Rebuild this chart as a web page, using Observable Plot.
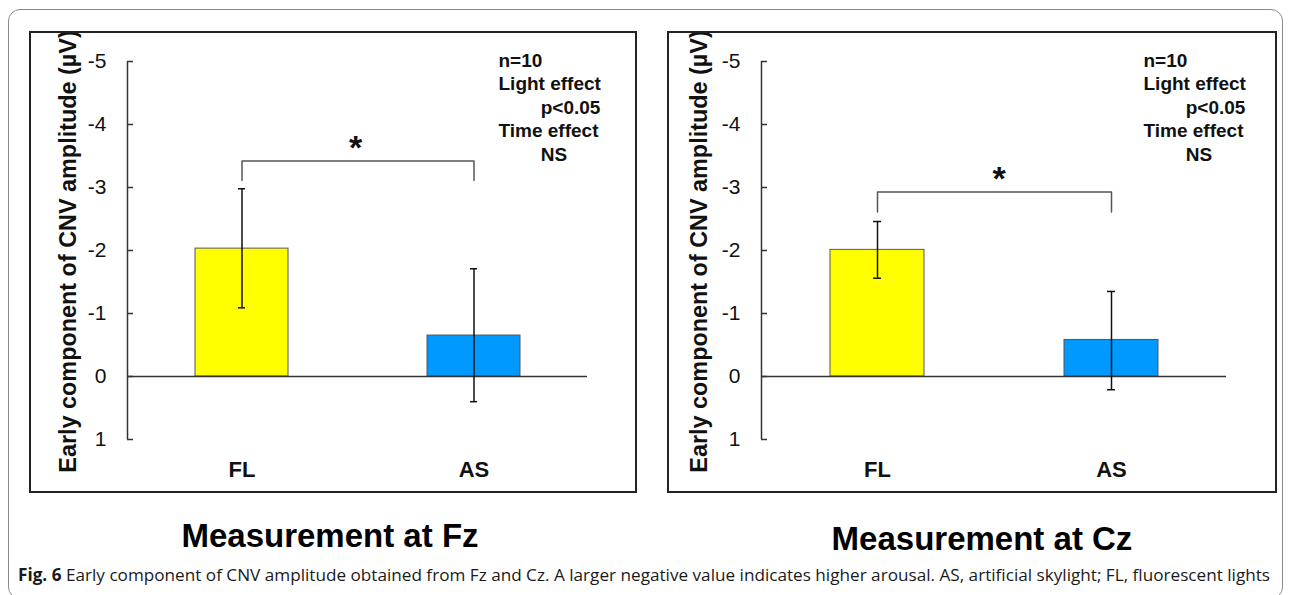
<!DOCTYPE html>
<html>
<head>
<meta charset="utf-8">
<script src="https://cdn.jsdelivr.net/npm/d3@7"></script>
<script src="https://cdn.jsdelivr.net/npm/@observablehq/plot@0.6"></script>
<style>
  body { margin: 0; background: #fff; }
  #root { position: relative; width: 1292px; height: 595px; overflow: hidden; font-family: "Liberation Sans", Arial, sans-serif; background: #fff; }
  #outer { position: absolute; left: 8px; top: 9px; width: 1275px; height: 590px; border: 1.5px solid #8a8a8a; border-radius: 12px; box-sizing: border-box; }
  .panel { position: absolute; top: 31px; }
  .panel svg { display: block; outline: 2px solid #222; outline-offset: -2px; }
  .title { position: absolute; font-weight: bold; font-size: 33px; line-height: 1; white-space: nowrap; transform: translateX(-50%); color: #000; }
  #caption { position: absolute; left: 18px; top: 566px; font-family: "Open Sans", "Noto Sans", sans-serif; font-size: 17px; line-height: 1; white-space: nowrap; color: #1a1a1a; transform-origin: 0 0; }
  #caption b { font-weight: 700; }
</style>
</head>
<body>
<div id="root">
  <div id="outer"></div>
  <div id="panelFz" class="panel" style="left:29px"></div>
  <div id="panelCz" class="panel" style="left:667px"></div>
  <div class="title" id="titleFz" style="left:330px; top:519px"></div>
  <div class="title" id="titleCz" style="left:982px; top:522px"></div>
  <div id="caption"></div>
</div>
<script>
// ---- data ----
const categories = ["FL", "AS"];
const barColors = ["#ffff00", "#0099ff"];
const yTicks = [-5, -4, -3, -2, -1, 0, 1];
const yLabel = "Early component of CNV amplitude (\u00b5V)";

const fzMeans = [-2.03, -0.65];
const fzErrLow = [-2.98, -1.71];
const fzErrHigh = [-1.09, 0.40];
const fzBracketY = -3.42;
const fzBracketLegs = [-3.11, -3.11];
const fzStarY = -3.69;

const czMeans = [-2.01, -0.58];
const czErrLow = [-2.46, -1.35];
const czErrHigh = [-1.56, 0.21];
const czBracketY = -2.93;
const czBracketLegs = [-2.61, -2.61];
const czStarY = -3.19;

const annotLines = ["n=10", "Light effect", "p<0.05", "Time effect", "NS"];
const annotIndent = [false, false, true, false, true];

const panelTitles = ["Measurement at Fz", "Measurement at Cz"];
const captionBold = "Fig. 6";
const captionText = " Early component of CNV amplitude obtained from Fz and Cz. A larger negative value indicates higher arousal. AS, artificial skylight; FL, fluorescent lights";

// ---- chart ----
const annotText = annotLines.map((t, i) => (annotIndent[i] ? "\u00a0".repeat(8) : "") + t).join("\n");

function makePanel(cfg) {
  const rows = categories.map((c, i) => ({cat: c, mean: cfg.means[i], lo: cfg.lo[i], hi: cfg.hi[i]}));
  const bracket = [
    {cat: categories[0], y: cfg.legs[0]},
    {cat: categories[0], y: cfg.bracketY},
    {cat: categories[1], y: cfg.bracketY},
    {cat: categories[1], y: cfg.legs[1]}
  ];
  const W = cfg.width, H = 462;
  const innerW = W - cfg.ml - cfg.mr;
  return Plot.plot({
    width: W, height: H,
    marginLeft: cfg.ml, marginRight: cfg.mr, marginTop: 30, marginBottom: 54,
    style: {fontFamily: "'Liberation Sans', Arial, sans-serif", fontSize: "20px", color: "#111", background: "#fff", overflow: "visible"},
    x: {type: "band", domain: categories, paddingInner: 0.6, paddingOuter: 0.29},
    y: {domain: [1, -5]},
    color: {domain: categories, range: barColors},
    marks: [
      Plot.barY(rows, {x: "cat", y: "mean", fill: "cat", stroke: "#555", strokeWidth: 1}),
      Plot.ruleY([0], {stroke: "#333", strokeWidth: 1.5}),
      // y axis line (at the left edge of the frame)
      Plot.ruleX([0], {x: null, y1: yTicks[yTicks.length - 1], y2: yTicks[0], dx: -innerW / 2, stroke: "#333", strokeWidth: 1.5}),
      // inward tick marks
      Plot.ruleY(yTicks, {y: d => d, insetRight: innerW - 6, stroke: "#333", strokeWidth: 1.5}),
      Plot.axisY(yTicks, {tickSize: 0, tickPadding: 21, tickFormat: d => String(d), fontSize: 21, label: null}),
      Plot.axisX({tickSize: 0, tickPadding: 22, fontSize: 22, fontWeight: "bold", label: null}),
      Plot.ruleX(rows, {x: "cat", y1: "lo", y2: "hi", stroke: "#111", strokeWidth: 1.5}),
      Plot.tickY(rows, {x: "cat", y: "lo", insetLeft: 43, insetRight: 43, stroke: "#111", strokeWidth: 1.5}),
      Plot.tickY(rows, {x: "cat", y: "hi", insetLeft: 43, insetRight: 43, stroke: "#111", strokeWidth: 1.5}),
      Plot.line(bracket, {x: "cat", y: "y", stroke: "#555", strokeWidth: 1.5}),
      Plot.text([cfg.starY], {y: d => d, text: () => "*", fontSize: 34, fontWeight: "bold", dy: 4, dx: cfg.starDx}),
      Plot.text([yLabel], {text: d => d, frameAnchor: "left", textAnchor: "middle", rotate: -90, dx: cfg.labelDx, dy: 1, fontSize: 23.4, fontWeight: "bold"}),
      Plot.text([annotText], {text: d => d, frameAnchor: "top-left", dx: cfg.annotDx, dy: -11, textAnchor: "start", lineAnchor: "top", lineHeight: 1.23, fontSize: 19, fontWeight: "bold"})
    ]
  });
}

document.getElementById("panelFz").appendChild(makePanel({
  means: fzMeans, lo: fzErrLow, hi: fzErrHigh, bracketY: fzBracketY, legs: fzBracketLegs, starY: fzStarY,
  width: 608, ml: 98, mr: 50, labelDx: -59, annotDx: 371, starDx: -2
}));
document.getElementById("panelCz").appendChild(makePanel({
  means: czMeans, lo: czErrLow, hi: czErrHigh, bracketY: czBracketY, legs: czBracketLegs, starY: czStarY,
  width: 610, ml: 94, mr: 51, labelDx: -62, annotDx: 382, starDx: 5
}));

document.getElementById("titleFz").textContent = panelTitles[0];
document.getElementById("titleCz").textContent = panelTitles[1];

const cap = document.getElementById("caption");
const b = document.createElement("b"); b.textContent = captionBold;
cap.appendChild(b);
cap.appendChild(document.createTextNode(captionText));
const targetW = 1252;
const w = cap.getBoundingClientRect().width;
if (w > 0) cap.style.transform = `scaleX(${targetW / w})`;
</script>
</body>
</html>
